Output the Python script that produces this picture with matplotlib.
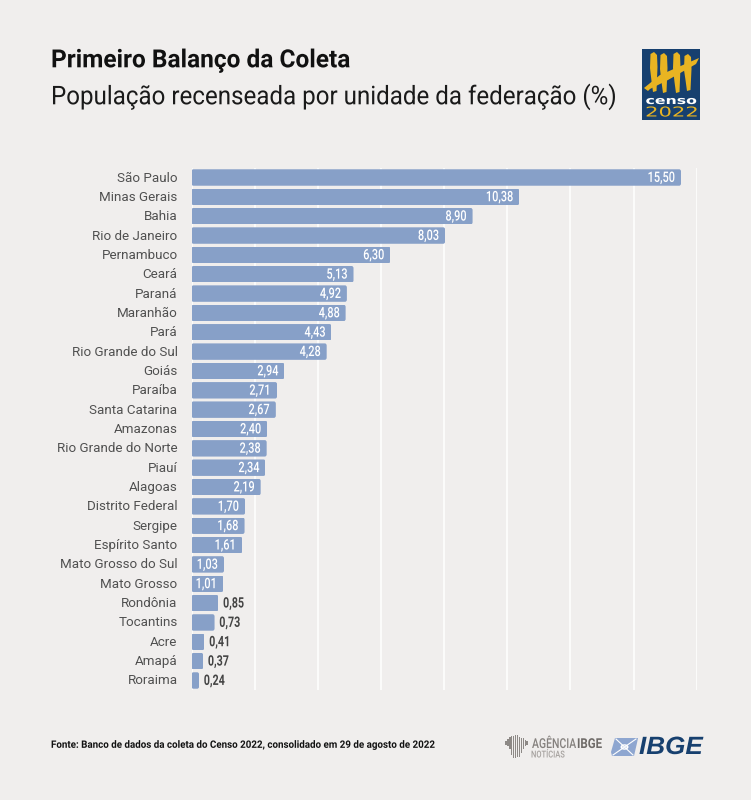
import matplotlib
matplotlib.use("Agg")
import matplotlib.pyplot as plt
from matplotlib.patches import Rectangle, Polygon, Ellipse, FancyBboxPatch
from matplotlib.patheffects import AbstractPathEffect
from matplotlib.transforms import Affine2D, ScaledTranslation

states = ["São Paulo","Minas Gerais","Bahia","Rio de Janeiro","Pernambuco","Ceará","Paraná","Maranhão","Pará",
          "Rio Grande do Sul","Goiás","Paraíba","Santa Catarina","Amazonas","Rio Grande do Norte","Piauí","Alagoas",
          "Distrito Federal","Sergipe","Espírito Santo","Mato Grosso do Sul","Mato Grosso","Rondônia","Tocantins",
          "Acre","Amapá","Roraima"]
values = [15.50,10.38,8.90,8.03,6.30,5.13,4.92,4.88,4.43,4.28,2.94,2.71,2.67,2.40,2.38,2.34,2.19,1.70,1.68,1.61,
          1.03,1.01,0.85,0.73,0.41,0.37,0.24]
ticks = [0,2,4,6,8,10,12,14,16]
title = "Primeiro Balanço da Coleta"
subtitle = "População recenseada por unidade da federação (%)"
source = "Fonte: Banco de dados da coleta do Censo 2022, consolidado em 29 de agosto de 2022"

BG = "#f0eeed"; BAR = "#87a0c8"; NAVY = "#17406f"; GOLD = "#e9b422"


class Stretch(AbstractPathEffect):
    """Draw a text with its glyphs stretched, either by a factor or to a pixel width."""
    def __init__(self, sx=None, width=None, align="left", sy=1.0):
        super().__init__()
        self.sx, self.width, self.align, self.sy = sx, width, align, sy

    def draw_path(self, renderer, gc, tpath, affine, rgbFace=None):
        w = tpath.get_extents(affine).width
        sx = self.sx if self.width is None else self.width / w
        shift = {"left": 0, "center": (1 - sx) * w / 2, "right": (1 - sx) * w}[self.align]
        renderer.draw_path(gc, tpath, Affine2D().scale(sx, self.sy) + affine + Affine2D().translate(shift, 0), rgbFace)


W, H = 751, 800
fig = plt.figure(figsize=(W/100, H/100), dpi=100, facecolor=BG)
x0, x1 = 191.5, 696.8
y_top, y_bot = 168.0, 690.0
ax = fig.add_axes([x0/W, 1-y_bot/H, (x1-x0)/W, (y_bot-y_top)/H], facecolor=BG)
step = (680.5-177.5)/26
ax.set_xlim(0, 16)
ax.set_ylim((y_bot-177.5)/step, (y_top-177.5)/step)
ax.set_xticks(ticks)
ax.grid(axis="x", color="white", lw=1.1, zorder=0)
ax.set_axisbelow(True)
for s in ax.spines.values():
    s.set_visible(False)
ax.tick_params(length=0, labelbottom=False)
ypos = list(range(len(states)))
bars = ax.barh(ypos, values, height=0.85, color=BAR, lw=0, zorder=2)
for b in bars:
    rounded = FancyBboxPatch((b.get_x(), b.get_y()), b.get_width(), b.get_height(),
                             boxstyle="round,pad=0,rounding_size=0.06", mutation_aspect=1.9,
                             transform=ax.transData)
    b.set_clip_path(rounded)
ax.set_yticks(ypos, states, family="Roboto", fontsize=9.6, color="#505050")
ax.tick_params(axis="y", pad=10)
up = ScaledTranslation(0, 1/100, fig.dpi_scale_trans)
for lab in ax.get_yticklabels():
    lab.set_transform(lab.get_transform() + up)
for y, v in zip(ypos, values):
    s = f"{v:.2f}".replace(".", ",")
    if v > 1:
        ax.annotate(s, (v, y), xytext=(-4.2, -0.3), textcoords="offset points", ha="right", va="center",
                    family="Roboto", fontsize=10.4, color="white", fontweight="medium",
                    path_effects=[Stretch(sx=0.76, align="right")], zorder=3)
    else:
        ax.annotate(s, (v, y), xytext=(3.4, -0.3), textcoords="offset points", ha="left", va="center",
                    family="Roboto", fontsize=10.4, color="#444444", fontweight="bold",
                    path_effects=[Stretch(sx=0.74)], zorder=3)

ov = fig.add_axes([0, 0, 1, 1], facecolor="none")
ov.set_xlim(0, W); ov.set_ylim(H, 0); ov.axis("off")
ov.text(51, 67.3, title, family="Roboto", fontsize=18, fontweight="bold", color="#111111", va="baseline",
        path_effects=[Stretch(width=297)])
ov.text(51, 104.3, subtitle, family="Roboto", fontsize=18.6, color="#1a1a1a", va="baseline",
        path_effects=[Stretch(width=562)])
ov.text(51, 745, source, family="Roboto", fontsize=7.4, fontweight="bold", color="#111111", va="center",
        path_effects=[Stretch(width=383)])

# Censo 2022 logo
ov.add_patch(Rectangle((642, 49), 58, 71, color=NAVY, lw=0))
for px, top, bot in [(654, 53, 91), (664, 54, 92), (677, 53, 92), (688, 55, 90)]:
    ov.add_patch(Polygon([(px-3.5,top+1),(px,top-1),(px+3,top+2),(px+3.5,top+14),(px+2.5,bot),(px-1,bot+1),(px-2.5,bot-10),(px-4,top+15)],
                         color=GOLD, lw=0))
ov.add_patch(Polygon([(644,88),(660,75),(699,58),(696,64),(668,80),(650,89),(648,91)], color=GOLD, lw=0))
ov.text(671, 104, "censo", family="DejaVu Sans", fontsize=6, fontweight="bold", color="white", va="baseline",
        ha="center", path_effects=[Stretch(width=50, align="center", sy=1.3)])
ov.text(671, 116.5, "2022", family="DejaVu Sans", fontsize=7, color=GOLD, va="baseline",
        ha="center", path_effects=[Stretch(width=50, align="center", sy=1.4)])

# Agência IBGE logo
for i, (top, bot) in enumerate([(741,745),(739,746),(737,749),(736,755),(736,758),(735,758),(735,757),(737,757),(738,753),(738,749),(740,746),(741,745)]):
    ov.add_patch(Rectangle((505+i*1.95, top), 1.6, bot-top, color="#8d8986", lw=0))
ov.text(532, 748, "AGÊNCIA", family="Roboto", fontsize=7.4, color="#85817e", va="baseline", fontweight="medium",
        path_effects=[Stretch(width=44, sy=1.33)])
ov.text(577, 748, "IBGE", family="Roboto", fontsize=7.4, fontweight="bold", color="#6f6b68", va="baseline",
        path_effects=[Stretch(width=24, sy=1.33)])
ov.text(531, 757.5, "NOTÍCIAS", family="Roboto", fontsize=6, color="#a5a19e", va="baseline", fontweight="medium",
        path_effects=[Stretch(width=33, sy=1.15)])

# IBGE logo
ov.add_patch(Polygon([(615,738),(638,738),(637,743),(634,756),(612,756),(611,752)], color="#8ea6d0", lw=0))
ov.plot([613,636], [755,739], color="white", lw=0.8)
ov.plot([616,633], [739,755], color="white", lw=0.8)
ov.add_patch(Ellipse((624.5,747), 8, 5.5, color="white", lw=0))
ov.add_patch(Ellipse((624.5,747), 4, 2.8, color="#8ea6d0", lw=0))
ov.text(639, 747, "IBGE", family="Liberation Sans", fontsize=18, fontweight="bold", style="italic", color=NAVY,
        va="center", path_effects=[Stretch(width=64)])

fig.savefig("out.png", dpi=100, facecolor=BG)
